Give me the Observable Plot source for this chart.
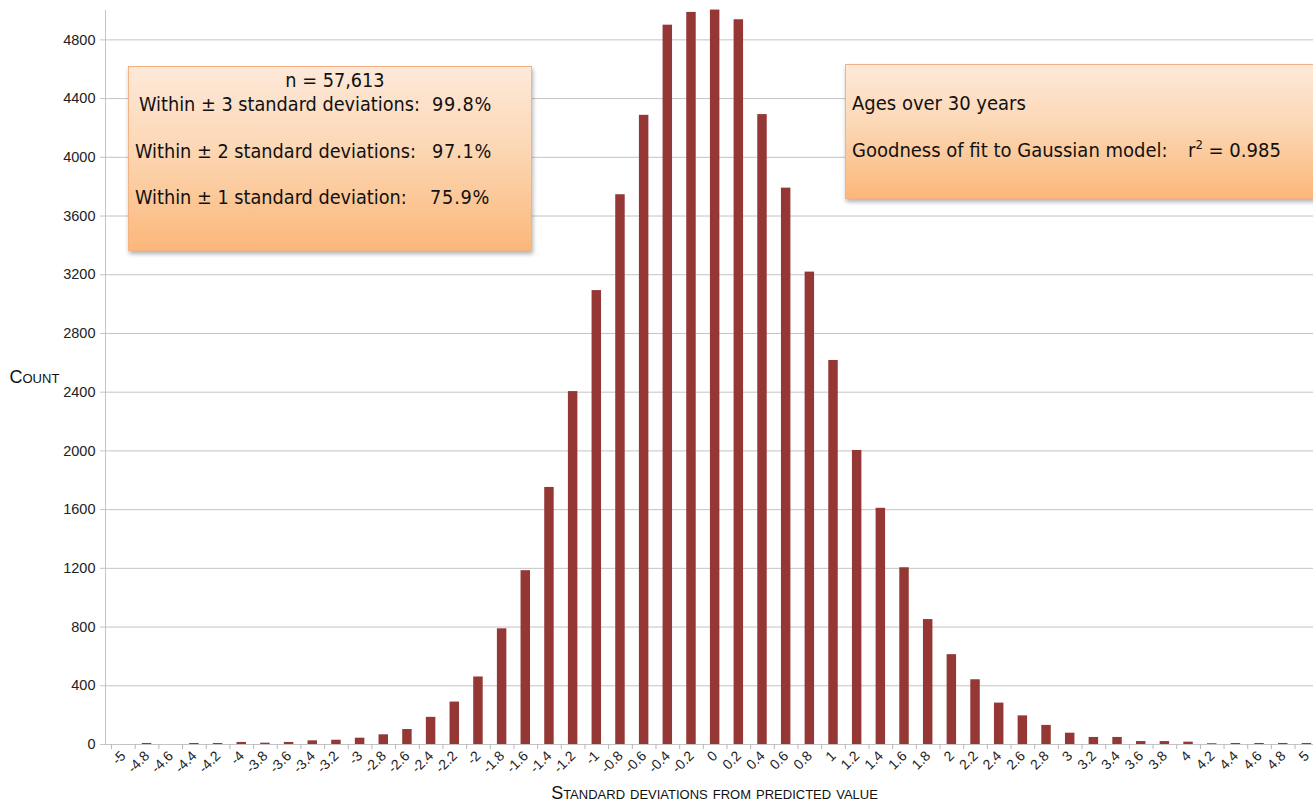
<!DOCTYPE html>
<html>
<head>
<meta charset="utf-8">
<script src="https://cdn.jsdelivr.net/npm/d3@7"></script>
<script src="https://cdn.jsdelivr.net/npm/@observablehq/plot@0.6"></script>
<style>
  html, body { margin: 0; padding: 0; background: #fff; }
  #wrap { position: relative; width: 1313px; height: 809px; overflow: hidden; }
  #overlay { position: absolute; left: 0; top: 0; pointer-events: none; }
  .bt { font-family: "DejaVu Sans Condensed", "Liberation Sans", sans-serif; font-size: 19.7px; fill: #111; }
  .bt2 { font-family: "DejaVu Sans Condensed", "Liberation Sans", sans-serif; font-size: 20px; fill: #111; }
</style>
</head>
<body>
<div id="wrap"></div>
<script>
// ---- data ----
const categories = ["-5","-4.8","-4.6","-4.4","-4.2","-4","-3.8","-3.6","-3.4","-3.2","-3","-2.8","-2.6","-2.4","-2.2","-2","-1.8","-1.6","-1.4","-1.2","-1","-0.8","-0.6","-0.4","-0.2","0","0.2","0.4","0.6","0.8","1","1.2","1.4","1.6","1.8","2","2.2","2.4","2.6","2.8","3","3.2","3.4","3.6","3.8","4","4.2","4.4","4.6","4.8","5"];
const counts = [0,7,0,7,7,14,9,14,25,29,43,66,102,185,289,460,788,1184,1751,2404,3092,3745,4286,4900,4987,5003,4937,4291,3790,3218,2616,2003,1609,1204,851,612,441,282,195,130,77,48,48,20,20,16,5,7,7,7,7];
const yTicks = [0,400,800,1200,1600,2000,2400,2800,3200,3600,4000,4400,4800];
const yLabel = "Count";
const xLabel = "Standard deviations from predicted value";
const box1Lines = [
  {label: "n = 57,613", value: ""},
  {label: "Within \u00b1 3 standard deviations:", value: "99.8%"},
  {label: "Within \u00b1 2 standard deviations:", value: "97.1%"},
  {label: "Within \u00b1 1 standard deviation:", value: "75.9%"}
];
const box2Lines = ["Ages over 30 years", "Goodness of fit to Gaussian model:"];
const r2Value = "0.985";

const data = categories.map((c, i) => ({cat: c, count: counts[i]}));

const W = 1313, H = 809;
const marginLeft = 105, marginTop = 10, marginBottom = 65;
const step = 23.67;

const chart = Plot.plot({
  width: W,
  height: H,
  marginLeft, marginTop, marginBottom, marginRight: 0,
  style: {fontFamily: "'Liberation Sans', Arial, sans-serif", background: "#fff", overflow: "visible"},
  x: {type: "band", domain: categories, range: [105, 1324.3], paddingInner: 0.6, paddingOuter: 0.556, align: 0.5},
  y: {domain: [0, 5000], range: [744, 10]},
  marks: [
    Plot.gridY(yTicks, {stroke: "#c4c4c4", strokeOpacity: 1, strokeWidth: 1}),
    Plot.frame({anchor: "left", stroke: "#c4c4c4"}),
    Plot.barY(data, {x: "cat", y: "count", fill: "#953735"}),
    Plot.axisY(yTicks, {tickSize: 5, tickPadding: 5, fontSize: 14.5, stroke: "#c4c4c4", fill: "#222", label: null, tickFormat: d => String(d)}),
    Plot.axisX({tickSize: 5, text: null, tickFormat: null, stroke: "#b8b8b8", dx: -step / 2, label: null}),
    Plot.axisX({tickSize: 0, tickPadding: 9, tickRotate: -45, fontSize: 14, fill: "#222", label: null}),
    Plot.text([yLabel], {frameAnchor: "left", dx: -96, textAnchor: "start", fontSize: 18, fontVariant: "small-caps", fill: "#111"}),
    Plot.text([xLabel], {frameAnchor: "bottom", dx: 5, dy: 54, fontSize: 18, fontVariant: "small-caps", fill: "#111"})
  ]
});

const wrap = document.getElementById("wrap");
wrap.appendChild(chart);

// ---- overlay boxes ----
const ov = d3.select(wrap).append("svg").attr("id", "overlay").attr("width", W).attr("height", H);
const defs = ov.append("defs");
const grad = defs.append("linearGradient").attr("id", "peach").attr("x1", 0).attr("y1", 0).attr("x2", 0).attr("y2", 1);
grad.append("stop").attr("offset", "0%").attr("stop-color", "#fde9da");
grad.append("stop").attr("offset", "45%").attr("stop-color", "#fcd7b4");
grad.append("stop").attr("offset", "100%").attr("stop-color", "#fbb77a");
const filt = defs.append("filter").attr("id", "shadow").attr("x", "-10%").attr("y", "-10%").attr("width", "130%").attr("height", "140%");
filt.append("feDropShadow").attr("dx", 1).attr("dy", 3).attr("stdDeviation", 2).attr("flood-color", "#000").attr("flood-opacity", 0.3);

function box(x, y, w, h) {
  ov.append("rect").attr("x", x).attr("y", y).attr("width", w).attr("height", h)
    .attr("fill", "url(#peach)").attr("stroke", "#f4b183").attr("stroke-width", 1).attr("filter", "url(#shadow)");
}
box(128.5, 66.5, 403, 184);
box(845.5, 64.5, 480, 134);

// box 1 text
ov.append("text").attr("class", "bt").attr("x", 335).attr("y", 87).attr("text-anchor", "middle").text(box1Lines[0].label);
const b1y = [null, 111, 158, 204];
const b1x = [null, 139, 135, 135];
const b1vx = [null, 432, 432, 430];
for (let i = 1; i < 4; i++) {
  ov.append("text").attr("class", "bt").attr("x", b1x[i]).attr("y", b1y[i]).text(box1Lines[i].label);
  ov.append("text").attr("class", "bt").attr("x", b1vx[i]).attr("y", b1y[i]).attr("letter-spacing", 0.8).text(box1Lines[i].value);
}
// box 2 text
ov.append("text").attr("class", "bt2").attr("x", 852).attr("y", 110).text(box2Lines[0]);
ov.append("text").attr("class", "bt2").attr("x", 852).attr("y", 157).text(box2Lines[1]);
const r2 = ov.append("text").attr("class", "bt2").attr("x", 1188).attr("y", 157);
r2.append("tspan").text("r");
r2.append("tspan").attr("dy", -8).attr("font-size", 13).text("2");
r2.append("tspan").attr("dy", 8).text(" = " + r2Value);
</script>
</body>
</html>
